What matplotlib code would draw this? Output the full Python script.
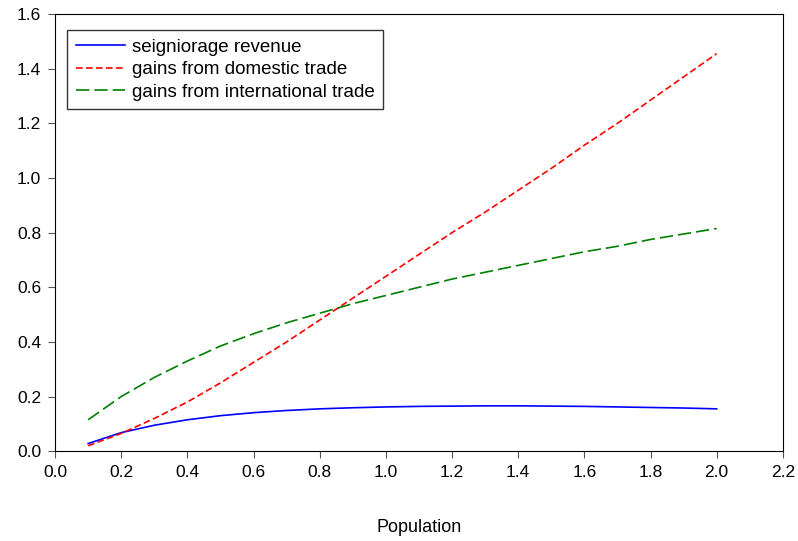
import matplotlib
matplotlib.use("Agg")
import matplotlib.pyplot as plt

plt.rcParams["font.family"] = ["Liberation Sans", "DejaVu Sans"]

population = [0.1, 0.2, 0.3, 0.4, 0.5, 0.6, 0.7, 0.8, 0.9, 1.0,
              1.1, 1.2, 1.3, 1.4, 1.5, 1.6, 1.7, 1.8, 1.9, 2.0]
seigniorage = [0.028, 0.068, 0.095, 0.115, 0.130, 0.141, 0.149, 0.155, 0.159, 0.162,
               0.164, 0.165, 0.166, 0.166, 0.165, 0.164, 0.162, 0.160, 0.158, 0.155]
domestic = [0.020, 0.065, 0.120, 0.180, 0.250, 0.325, 0.400, 0.480, 0.560, 0.640,
            0.720, 0.800, 0.875, 0.955, 1.035, 1.120, 1.200, 1.285, 1.370, 1.455]
international = [0.115, 0.200, 0.270, 0.330, 0.385, 0.430, 0.470, 0.505, 0.540, 0.570,
                 0.600, 0.630, 0.655, 0.680, 0.705, 0.730, 0.750, 0.775, 0.795, 0.815]

fig = plt.figure(figsize=(7.98, 5.41), dpi=100)
ax = fig.add_axes([0.069, 0.166, 0.912, 0.808])

ax.plot(population, seigniorage, color="#0000ff", lw=1.2, label="seigniorage revenue")
ax.plot(population, domestic, color="#ff0000", lw=1.2, dashes=(4, 2), label="gains from domestic trade")
ax.plot(population, international, color="#008000", lw=1.2, dashes=(8, 3), label="gains from international trade")

ax.set_xlim(0, 2.2)
ax.set_ylim(0, 1.6)
ax.set_xticks([i * 0.2 for i in range(12)])
ax.set_yticks([i * 0.2 for i in range(9)])
ax.xaxis.set_major_formatter(matplotlib.ticker.FormatStrFormatter("%.1f"))
ax.yaxis.set_major_formatter(matplotlib.ticker.FormatStrFormatter("%.1f"))
ax.tick_params(direction="out", length=5, pad=5, labelsize=12.5, color="#555555")
ax.set_xlabel("Population", fontsize=13, labelpad=28)

leg = ax.legend(loc="upper left", fontsize=13.5, frameon=True, fancybox=False,
                edgecolor="black", handlelength=2.6, handletextpad=0.4,
                borderpad=0.45, labelspacing=0.28, borderaxespad=0,
                bbox_to_anchor=(0.017, 0.963))
leg.get_frame().set_linewidth(1.0)

fig.savefig("out.png", dpi=100)
